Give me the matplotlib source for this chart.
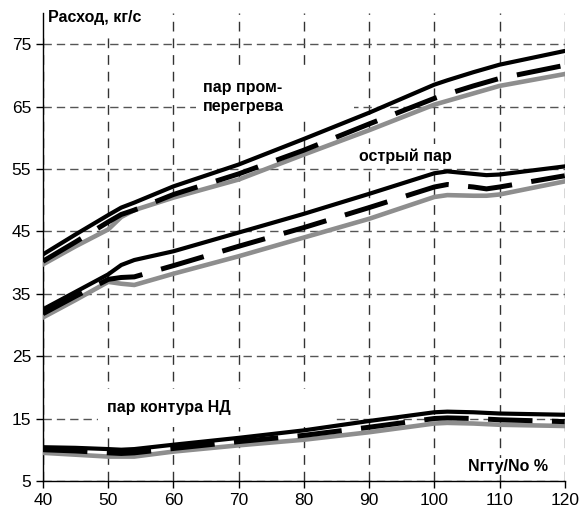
import matplotlib.pyplot as plt
from matplotlib.patches import Rectangle

# load fraction, %
load = [40, 45, 50, 52, 54, 60, 70, 80, 90, 100, 102, 106, 108, 110, 120]

# reheat steam
rh_solid = [41.3, 44.5, 47.6, 48.8, 49.6, 52.2, 55.7, 59.8, 64.0, 68.5, 69.2, 70.5, 71.1, 71.7, 73.9]
rh_dash = [40.2, 43.3, 46.5, 47.7, 48.4, 50.9, 54.2, 58.0, 62.2, 66.3, 67.0, 68.3, 68.9, 69.5, 71.6]
rh_gray = [39.7, 42.6, 45.3, 47.3, 48.4, 50.4, 53.3, 57.3, 61.2, 65.3, 65.9, 67.1, 67.7, 68.3, 70.2]

# live steam
hp_solid = [32.5, 35.3, 38.1, 39.6, 40.4, 41.8, 44.8, 47.8, 51.0, 54.3, 54.6, 54.2, 54.0, 54.1, 55.4]
hp_dash = [31.8, 34.6, 37.3, 37.6, 37.7, 39.5, 42.6, 45.6, 48.8, 52.1, 52.5, 52.1, 51.8, 52.1, 53.9]
hp_gray = [31.2, 34.0, 36.9, 36.6, 36.4, 38.2, 41.0, 44.0, 47.0, 50.5, 50.8, 50.7, 50.7, 50.9, 53.0]

# low pressure circuit steam
lp_solid = [10.4, 10.3, 10.1, 10.0, 10.1, 10.8, 11.9, 13.1, 14.6, 16.0, 16.1, 16.0, 15.9, 15.8, 15.6]
lp_dash = [10.0, 9.8, 9.5, 9.4, 9.5, 10.2, 11.3, 12.3, 13.6, 15.0, 15.1, 15.0, 14.9, 14.8, 14.5]
lp_gray = [9.5, 9.2, 8.9, 8.9, 8.9, 9.7, 10.7, 11.6, 12.8, 14.2, 14.3, 14.2, 14.1, 14.0, 13.8]

plt.rcParams['font.family'] = ['Liberation Sans', 'DejaVu Sans']
plt.rcParams['lines.scale_dashes'] = False

fig, ax = plt.subplots(figsize=(5.81, 5.16), dpi=100)
fig.subplots_adjust(left=0.074, right=0.972, bottom=0.068, top=0.975)

for solid, dash, gray in [(rh_solid, rh_dash, rh_gray),
                          (hp_solid, hp_dash, hp_gray),
                          (lp_solid, lp_dash, lp_gray)]:
    ax.plot(load, gray, color='#8e8e8e', lw=3.3, zorder=4)
    ax.plot(load, dash, color='black', lw=3.6, dashes=(32, 14), zorder=5)
    ax.plot(load, solid, color='black', lw=3.0, zorder=6)

ax.set_xlim(40, 120)
ax.set_ylim(5, 80)
ax.set_xticks(range(40, 121, 10))
ax.set_yticks(range(5, 76, 10))
ax.tick_params(direction='out', length=5, width=1, labelsize=12.5, colors='black')

ax.set_axisbelow(True)
ax.grid(axis='y', color='#555555', linestyle=(0, (6, 3.6)), lw=1)
ax.grid(axis='x', color='#333333', linestyle=(0, (7, 5)), lw=1)

for s in ['top', 'right']:
    ax.spines[s].set_visible(False)
for s in ['left', 'bottom']:
    ax.spines[s].set_linewidth(1)

# white label boxes masking the grid
for x0, y0, w, h in [(63.5, 63.2, 24.2, 7.5), (86.9, 55.3, 20.0, 3.7),
                     (48.4, 13.6, 36.6, 6.2), (40.0, 76.7, 17.9, 3.3)]:
    ax.add_patch(Rectangle((x0, y0), w, h, facecolor='white', edgecolor='none', zorder=2))

bold = dict(fontsize=11.5, fontweight='bold', zorder=7)
ax.text(40.8, 79.3, 'Расход, кг/с', ha='left', va='center', **bold)
ax.text(64.5, 66.5, 'пар пром-\nперегрева', ha='left', va='center', linespacing=1.3, **bold)
ax.text(88.5, 57.1, 'острый пар', ha='left', va='center', **bold)
ax.text(49.8, 16.7, 'пар контура НД', ha='left', va='center', **bold)
ax.text(117.5, 7.3, 'Nгту/No %', ha='right', va='center',
        bbox=dict(facecolor='white', edgecolor='none', pad=1), **bold)

plt.savefig('out.png', dpi=100)
